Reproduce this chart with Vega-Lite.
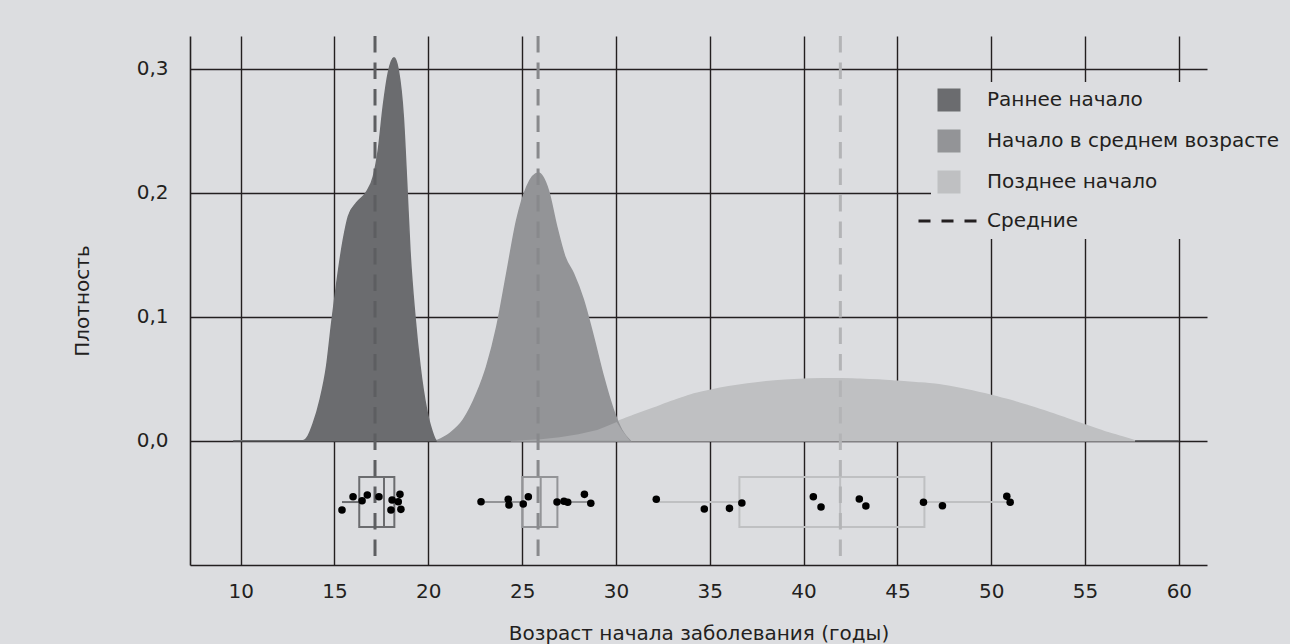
{
  "$schema": "https://vega.github.io/schema/vega-lite/v6.json",
  "width": 1017,
  "height": 529,
  "autosize": {"type": "none"},
  "padding": {"left": 190, "top": 36, "right": 83, "bottom": 79},
  "background": "#dcdde0",
  "config": {
    "view": {"stroke": null},
    "font": "DejaVu Sans",
    "axisX": {"grid": true, "gridColor": "#231f20", "gridWidth": 1.4, "gridOpacity": 1, "domainColor": "#231f20", "domainWidth": 1.6, "ticks": false, "labelFontSize": 20, "labelColor": "#231f20", "labelPadding": 16, "titleFontSize": 20, "titleFontWeight": "normal", "titleColor": "#231f20", "titlePadding": 22, "labelFont": "DejaVu Sans", "titleFont": "DejaVu Sans"},
    "axisY": {"grid": true, "gridColor": "#231f20", "gridWidth": 1.4, "gridOpacity": 1, "domainColor": "#231f20", "domainWidth": 1.6, "ticks": false, "labelFontSize": 20, "labelColor": "#231f20", "labelPadding": 22, "titleFontSize": 20, "titleFontWeight": "normal", "titleColor": "#231f20", "titlePadding": 44, "labelFont": "DejaVu Sans", "titleFont": "DejaVu Sans"}
  },
  "datasets": {
    "dens": [
      {"grp": "Раннее начало", "age": 9.6, "dens": 0},
      {"grp": "Раннее начало", "age": 13.3, "dens": 0},
      {"grp": "Раннее начало", "age": 13.6, "dens": 0.004},
      {"grp": "Раннее начало", "age": 13.87, "dens": 0.014},
      {"grp": "Раннее начало", "age": 14.23, "dens": 0.033},
      {"grp": "Раннее начало", "age": 14.58, "dens": 0.06},
      {"grp": "Раннее начало", "age": 14.85, "dens": 0.095},
      {"grp": "Раннее начало", "age": 15.12, "dens": 0.127},
      {"grp": "Раннее начало", "age": 15.47, "dens": 0.162},
      {"grp": "Раннее начало", "age": 15.74, "dens": 0.181},
      {"grp": "Раннее начало", "age": 16.18, "dens": 0.192},
      {"grp": "Раннее начало", "age": 16.72, "dens": 0.201},
      {"grp": "Раннее начало", "age": 17.07, "dens": 0.213},
      {"grp": "Раннее начало", "age": 17.34, "dens": 0.235},
      {"grp": "Раннее начало", "age": 17.6, "dens": 0.27},
      {"grp": "Раннее начало", "age": 17.87, "dens": 0.297},
      {"grp": "Раннее начало", "age": 18.17, "dens": 0.309},
      {"grp": "Раннее начало", "age": 18.4, "dens": 0.299},
      {"grp": "Раннее начало", "age": 18.67, "dens": 0.261},
      {"grp": "Раннее начало", "age": 18.85, "dens": 0.208},
      {"grp": "Раннее начало", "age": 19.02, "dens": 0.154},
      {"grp": "Раннее начало", "age": 19.29, "dens": 0.1},
      {"grp": "Раннее начало", "age": 19.56, "dens": 0.06},
      {"grp": "Раннее начало", "age": 19.91, "dens": 0.025},
      {"grp": "Раннее начало", "age": 20.18, "dens": 0.0086},
      {"grp": "Раннее начало", "age": 20.45, "dens": 0},
      {"grp": "Раннее начало", "age": 60, "dens": 0},
      {"grp": "Начало в среднем возрасте", "age": 20.45, "dens": 0},
      {"grp": "Начало в среднем возрасте", "age": 21.16, "dens": 0.006},
      {"grp": "Начало в среднем возрасте", "age": 21.87, "dens": 0.017},
      {"grp": "Начало в среднем возрасте", "age": 22.58, "dens": 0.038},
      {"grp": "Начало в среднем возрасте", "age": 23.11, "dens": 0.06},
      {"grp": "Начало в среднем возрасте", "age": 23.65, "dens": 0.092},
      {"grp": "Начало в среднем возрасте", "age": 24.18, "dens": 0.135},
      {"grp": "Начало в среднем возрасте", "age": 24.71, "dens": 0.178},
      {"grp": "Начало в среднем возрасте", "age": 25.25, "dens": 0.205},
      {"grp": "Начало в среднем возрасте", "age": 25.86, "dens": 0.216},
      {"grp": "Начало в среднем возрасте", "age": 26.4, "dens": 0.202},
      {"grp": "Начало в среднем возрасте", "age": 26.84, "dens": 0.173},
      {"grp": "Начало в среднем возрасте", "age": 27.29, "dens": 0.148},
      {"grp": "Начало в среднем возрасте", "age": 27.73, "dens": 0.135},
      {"grp": "Начало в среднем возрасте", "age": 28.26, "dens": 0.114},
      {"grp": "Начало в среднем возрасте", "age": 28.8, "dens": 0.084},
      {"grp": "Начало в среднем возрасте", "age": 29.33, "dens": 0.052},
      {"grp": "Начало в среднем возрасте", "age": 29.86, "dens": 0.025},
      {"grp": "Начало в среднем возрасте", "age": 30.31, "dens": 0.0086},
      {"grp": "Начало в среднем возрасте", "age": 30.75, "dens": 0},
      {"grp": "Позднее начало", "age": 24.4, "dens": 0},
      {"grp": "Позднее начало", "age": 25, "dens": 0.0003},
      {"grp": "Позднее начало", "age": 26, "dens": 0.0012},
      {"grp": "Позднее начало", "age": 27, "dens": 0.0027},
      {"grp": "Позднее начало", "age": 28, "dens": 0.0052},
      {"grp": "Позднее начало", "age": 29, "dens": 0.0087},
      {"grp": "Позднее начало", "age": 30, "dens": 0.015},
      {"grp": "Позднее начало", "age": 31, "dens": 0.0207},
      {"grp": "Позднее начало", "age": 32, "dens": 0.0262},
      {"grp": "Позднее начало", "age": 33, "dens": 0.0318},
      {"grp": "Позднее начало", "age": 34, "dens": 0.037},
      {"grp": "Позднее начало", "age": 35, "dens": 0.0405},
      {"grp": "Позднее начало", "age": 36, "dens": 0.0435},
      {"grp": "Позднее начало", "age": 37, "dens": 0.0458},
      {"grp": "Позднее начало", "age": 38, "dens": 0.0476},
      {"grp": "Позднее начало", "age": 39, "dens": 0.0488},
      {"grp": "Позднее начало", "age": 40, "dens": 0.0496},
      {"grp": "Позднее начало", "age": 41, "dens": 0.05},
      {"grp": "Позднее начало", "age": 42, "dens": 0.05},
      {"grp": "Позднее начало", "age": 43, "dens": 0.0496},
      {"grp": "Позднее начало", "age": 44, "dens": 0.0489},
      {"grp": "Позднее начало", "age": 45, "dens": 0.0479},
      {"grp": "Позднее начало", "age": 46, "dens": 0.0468},
      {"grp": "Позднее начало", "age": 47, "dens": 0.0455},
      {"grp": "Позднее начало", "age": 48, "dens": 0.0432},
      {"grp": "Позднее начало", "age": 49, "dens": 0.0402},
      {"grp": "Позднее начало", "age": 50, "dens": 0.0366},
      {"grp": "Позднее начало", "age": 51, "dens": 0.0326},
      {"grp": "Позднее начало", "age": 52, "dens": 0.028},
      {"grp": "Позднее начало", "age": 53, "dens": 0.0232},
      {"grp": "Позднее начало", "age": 54, "dens": 0.018},
      {"grp": "Позднее начало", "age": 55, "dens": 0.0127},
      {"grp": "Позднее начало", "age": 56, "dens": 0.0075},
      {"grp": "Позднее начало", "age": 57, "dens": 0.003},
      {"grp": "Позднее начало", "age": 57.66, "dens": 0}
    ],
    "overlap": [
      {"age": 24.4, "dens": 0},
      {"age": 25, "dens": 0.0003},
      {"age": 26, "dens": 0.0012},
      {"age": 27, "dens": 0.0027},
      {"age": 28, "dens": 0.0052},
      {"age": 29, "dens": 0.0087},
      {"age": 29.5, "dens": 0.0117},
      {"age": 30.04, "dens": 0.0152},
      {"age": 30.31, "dens": 0.0086},
      {"age": 30.75, "dens": 0}
    ],
    "boxes": [
      {"grp": "Раннее начало", "lower": 15.4, "q1": 16.32, "median": 17.64, "q3": 18.19, "upper": 18.54},
      {"grp": "Начало в среднем возрасте", "lower": 22.81, "q1": 25.01, "median": 25.99, "q3": 26.88, "upper": 28.66},
      {"grp": "Позднее начало", "lower": 32.15, "q1": 36.58, "median": 41.95, "q3": 46.44, "upper": 51.0}
    ],
    "means": [
      {"grp": "Раннее начало", "mean": 17.16},
      {"grp": "Начало в среднем возрасте", "mean": 25.85},
      {"grp": "Позднее начало", "mean": 41.96}
    ],
    "points": [
      {"grp": "Раннее начало", "age": 15.4, "jit": -0.0559},
      {"grp": "Раннее начало", "age": 15.99, "jit": -0.0452},
      {"grp": "Раннее начало", "age": 16.47, "jit": -0.0484},
      {"grp": "Раннее начало", "age": 16.75, "jit": -0.0438},
      {"grp": "Раннее начало", "age": 17.37, "jit": -0.0452},
      {"grp": "Раннее начало", "age": 18.07, "jit": -0.0479},
      {"grp": "Раннее начало", "age": 18.01, "jit": -0.0559},
      {"grp": "Раннее начало", "age": 18.49, "jit": -0.0433},
      {"grp": "Раннее начало", "age": 18.4, "jit": -0.0492},
      {"grp": "Раннее начало", "age": 18.54, "jit": -0.0554},
      {"grp": "Начало в среднем возрасте", "age": 22.81, "jit": -0.0492},
      {"grp": "Начало в среднем возрасте", "age": 24.26, "jit": -0.0473},
      {"grp": "Начало в среднем возрасте", "age": 24.3, "jit": -0.0519},
      {"grp": "Начало в среднем возрасте", "age": 25.06, "jit": -0.0511},
      {"grp": "Начало в среднем возрасте", "age": 25.33, "jit": -0.0452},
      {"grp": "Начало в среднем возрасте", "age": 26.86, "jit": -0.0495},
      {"grp": "Начало в среднем возрасте", "age": 27.23, "jit": -0.0489},
      {"grp": "Начало в среднем возрасте", "age": 27.43, "jit": -0.0497},
      {"grp": "Начало в среднем возрасте", "age": 28.32, "jit": -0.0433},
      {"grp": "Начало в среднем возрасте", "age": 28.66, "jit": -0.0505},
      {"grp": "Позднее начало", "age": 32.15, "jit": -0.0473},
      {"grp": "Позднее начало", "age": 34.71, "jit": -0.0551},
      {"grp": "Позднее начало", "age": 36.05, "jit": -0.0546},
      {"grp": "Позднее начало", "age": 36.71, "jit": -0.0503},
      {"grp": "Позднее начало", "age": 40.52, "jit": -0.0452},
      {"grp": "Позднее начало", "age": 40.93, "jit": -0.0535},
      {"grp": "Позднее начало", "age": 42.97, "jit": -0.0471},
      {"grp": "Позднее начало", "age": 43.32, "jit": -0.0527},
      {"grp": "Позднее начало", "age": 46.39, "jit": -0.0497},
      {"grp": "Позднее начало", "age": 47.4, "jit": -0.0525},
      {"grp": "Позднее начало", "age": 50.83, "jit": -0.0449},
      {"grp": "Позднее начало", "age": 51.01, "jit": -0.0497}
    ]
  },
  "layer": [
    {
      "data": {"name": "dens"},
      "transform": [{"filter": "datum.grp === 'Раннее начало'"}],
      "mark": {"type": "area", "interpolate": "monotone", "strokeWidth": 1.5, "fillOpacity": 1},
      "encoding": {
        "x": {"field": "age", "type": "quantitative", "title": "Возраст начала заболевания (годы)", "scale": {"domain": [7.3, 61.5], "nice": false, "zero": false}, "axis": {"values": [10, 15, 20, 25, 30, 35, 40, 45, 50, 55, 60], "format": "d"}},
        "y": {"field": "dens", "type": "quantitative", "title": "Плотность", "scale": {"domain": [-0.1003, 0.3266], "nice": false, "zero": false}, "axis": {"values": [0, 0.1, 0.2, 0.3], "labelExpr": "replace(format(datum.value, '.1f'), '.', ',')"}},
        "fill": {"field": "grp", "type": "nominal",
          "scale": {"domain": ["Раннее начало", "Начало в среднем возрасте", "Позднее начало", "Средние"], "range": ["#6b6c6f", "#939497", "#bfc0c2", "#231f20"]},
          "legend": {
            "title": null, "orient": "none", "legendX": 741, "legendY": 46,
            "symbolType": "square", "symbolSize": 529, "symbolStrokeWidth": 0,
            "labelFontSize": 20, "labelFont": "DejaVu Sans", "labelColor": "#231f20", "labelOffset": 28, "labelLimit": 500,
            "rowPadding": 17, "padding": 8, "fillColor": "#dcdde0",
            "encode": {"symbols": {"update": {
              "shape": {"signal": "datum.value === 'Средние' ? 'stroke' : 'square'"},
              "size": {"signal": "datum.value === 'Средние' ? 3721 : 529"},
              "stroke": {"signal": "datum.value === 'Средние' ? '#231f20' : 'transparent'"},
              "strokeWidth": {"signal": "datum.value === 'Средние' ? 3 : 0"},
              "strokeDash": {"signal": "datum.value === 'Средние' ? [12, 11] : [1, 0]"}
            }}}
          }},
        "stroke": {"field": "grp", "type": "nominal", "scale": {"domain": ["Раннее начало", "Начало в среднем возрасте", "Позднее начало"], "range": ["#6b6c6f", "#939497", "#bfc0c2"]}, "legend": null}
      }
    },
    {
      "data": {"name": "dens"},
      "transform": [{"filter": "datum.grp === 'Позднее начало'"}],
      "mark": {"type": "area", "interpolate": "monotone", "strokeWidth": 1.5, "fillOpacity": 1},
      "encoding": {
        "x": {"field": "age", "type": "quantitative", "title": "Возраст начала заболевания (годы)", "scale": {"domain": [7.3, 61.5], "nice": false, "zero": false}},
        "y": {"field": "dens", "type": "quantitative", "title": "Плотность", "scale": {"domain": [-0.1003, 0.3266], "nice": false, "zero": false}},
        "fill": {"field": "grp", "type": "nominal"},
        "stroke": {"field": "grp", "type": "nominal", "legend": null}
      }
    },
    {
      "data": {"name": "dens"},
      "transform": [{"filter": "datum.grp === 'Начало в среднем возрасте'"}],
      "mark": {"type": "area", "interpolate": "monotone", "strokeWidth": 1.5, "fillOpacity": 1},
      "encoding": {
        "x": {"field": "age", "type": "quantitative", "title": "Возраст начала заболевания (годы)", "scale": {"domain": [7.3, 61.5], "nice": false, "zero": false}},
        "y": {"field": "dens", "type": "quantitative", "title": "Плотность", "scale": {"domain": [-0.1003, 0.3266], "nice": false, "zero": false}},
        "fill": {"field": "grp", "type": "nominal"},
        "stroke": {"field": "grp", "type": "nominal", "legend": null}
      }
    },
    {
      "data": {"name": "overlap"},
      "mark": {"type": "area", "interpolate": "linear", "fill": "#a9aaad", "strokeWidth": 0},
      "encoding": {
        "x": {"field": "age", "type": "quantitative", "title": "Возраст начала заболевания (годы)", "scale": {"domain": [7.3, 61.5], "nice": false, "zero": false}},
        "y": {"field": "dens", "type": "quantitative", "title": "Плотность", "scale": {"domain": [-0.1003, 0.3266], "nice": false, "zero": false}}
      }
    },
    {
      "data": {"name": "boxes"},
      "mark": {"type": "rect", "filled": false, "strokeWidth": 2},
      "encoding": {
        "x": {"field": "q1", "type": "quantitative", "title": "Возраст начала заболевания (годы)", "scale": {"domain": [7.3, 61.5], "nice": false, "zero": false}},
        "x2": {"field": "q3"},
        "y": {"datum": -0.0293, "type": "quantitative", "title": "Плотность", "scale": {"domain": [-0.1003, 0.3266], "nice": false, "zero": false}},
        "y2": {"datum": -0.0697},
        "stroke": {"field": "grp", "type": "nominal", "legend": null}
      }
    },
    {
      "data": {"name": "boxes"},
      "mark": {"type": "rule", "strokeWidth": 2},
      "encoding": {
        "x": {"field": "lower", "type": "quantitative", "title": "Возраст начала заболевания (годы)", "scale": {"domain": [7.3, 61.5], "nice": false, "zero": false}},
        "x2": {"field": "q1"},
        "y": {"datum": -0.0495, "type": "quantitative", "title": "Плотность", "scale": {"domain": [-0.1003, 0.3266], "nice": false, "zero": false}},
        "stroke": {"field": "grp", "type": "nominal", "legend": null}
      }
    },
    {
      "data": {"name": "boxes"},
      "mark": {"type": "rule", "strokeWidth": 2},
      "encoding": {
        "x": {"field": "q3", "type": "quantitative", "title": "Возраст начала заболевания (годы)", "scale": {"domain": [7.3, 61.5], "nice": false, "zero": false}},
        "x2": {"field": "upper"},
        "y": {"datum": -0.0495, "type": "quantitative", "title": "Плотность", "scale": {"domain": [-0.1003, 0.3266], "nice": false, "zero": false}},
        "stroke": {"field": "grp", "type": "nominal", "legend": null}
      }
    },
    {
      "data": {"name": "boxes"},
      "mark": {"type": "rule", "strokeWidth": 2},
      "encoding": {
        "x": {"field": "median", "type": "quantitative", "title": "Возраст начала заболевания (годы)", "scale": {"domain": [7.3, 61.5], "nice": false, "zero": false}},
        "y": {"datum": -0.0293, "type": "quantitative", "title": "Плотность", "scale": {"domain": [-0.1003, 0.3266], "nice": false, "zero": false}},
        "y2": {"datum": -0.0697},
        "stroke": {"field": "grp", "type": "nominal", "legend": null}
      }
    },
    {
      "data": {"name": "means"},
      "mark": {"type": "rule", "strokeWidth": 3, "strokeDash": [16.5, 10]},
      "encoding": {
        "x": {"field": "mean", "type": "quantitative", "title": "Возраст начала заболевания (годы)", "scale": {"domain": [7.3, 61.5], "nice": false, "zero": false}},
        "color": {"field": "grp", "type": "nominal", "scale": {"domain": ["Раннее начало", "Начало в среднем возрасте", "Позднее начало"], "range": ["#5d5e61", "#88898c", "#b3b4b6"]}, "legend": null}
      }
    },
    {
      "data": {"name": "points"},
      "mark": {"type": "circle", "size": 57, "color": "#000000", "opacity": 1},
      "encoding": {
        "x": {"field": "age", "type": "quantitative", "title": "Возраст начала заболевания (годы)", "scale": {"domain": [7.3, 61.5], "nice": false, "zero": false}},
        "y": {"field": "jit", "type": "quantitative", "title": "Плотность", "scale": {"domain": [-0.1003, 0.3266], "nice": false, "zero": false}}
      }
    }
  ]
}
